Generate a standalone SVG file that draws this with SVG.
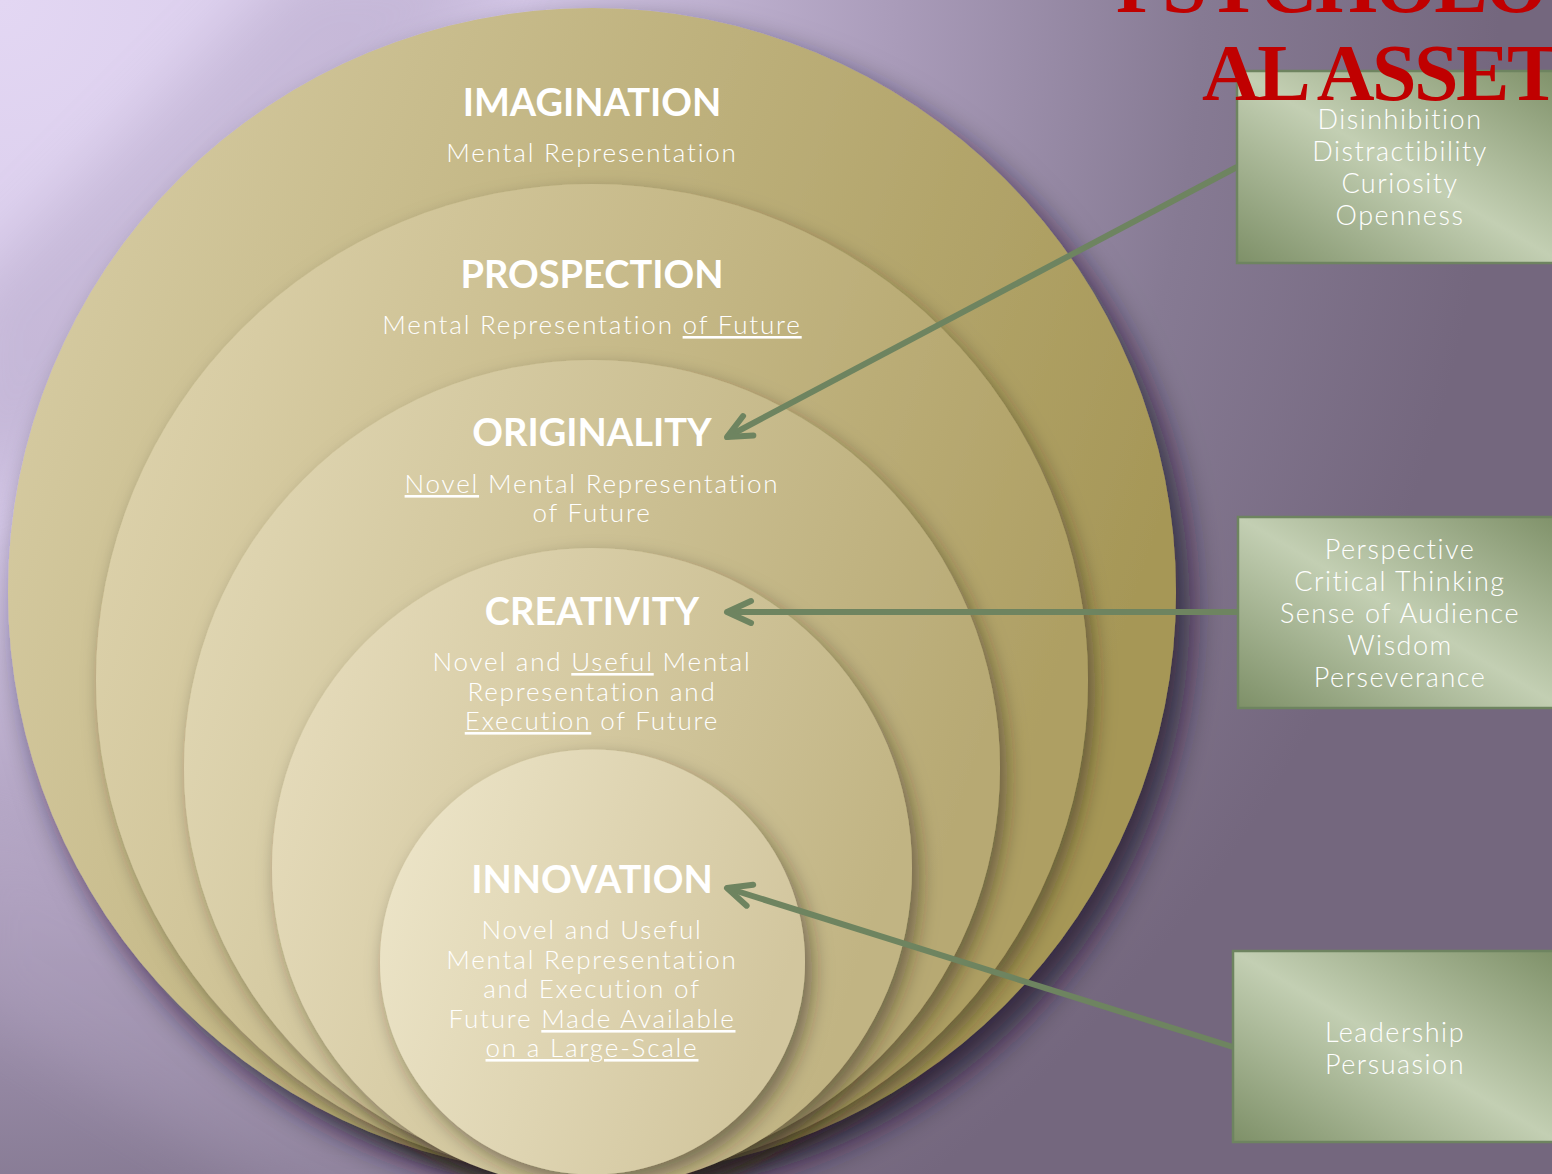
<svg xmlns="http://www.w3.org/2000/svg" width="1552" height="1174" viewBox="0 0 1552 1174">
  <style>
    .ttl { font-family: Lato, "Liberation Sans", sans-serif; font-weight: 700; font-size: 38px; fill: #ffffff; text-anchor: middle; }
    .body { font-family: Lato, "Liberation Sans", sans-serif; font-weight: 300; font-size: 26px; letter-spacing: 1.8px; fill: #ffffff; text-anchor: middle; }
    .box { stroke: #6e8460; stroke-width: 2.5; fill: url(#boxFill); }
    .boxtxt { font-family: Lato, "Liberation Sans", sans-serif; font-weight: 300; font-size: 27px; letter-spacing: 1.5px; fill: #ffffff; text-anchor: middle; }
    .ul { text-decoration: underline; }
    .conn { fill: none; stroke: #6e8460; stroke-width: 6; marker-end: url(#chev); }
    .head { font-family: "Liberation Serif", serif; font-weight: 700; font-size: 80px; fill: #c00000; letter-spacing: -2.5px; }
  </style>
  <defs>
    <radialGradient id="bg" gradientUnits="userSpaceOnUse" cx="0" cy="0" r="1500">
      <stop offset="0" stop-color="#e3d7f3"/>
      <stop offset="0.35" stop-color="#d4c7e7"/>
      <stop offset="0.6" stop-color="#a99bb9"/>
      <stop offset="0.8" stop-color="#867a93"/>
      <stop offset="1" stop-color="#74677e"/>
    </radialGradient>
    <linearGradient id="g1" x1="0.05" y1="0.25" x2="0.95" y2="0.55">
      <stop offset="0" stop-color="#d4c99f"/>
      <stop offset="1" stop-color="#a69757"/>
    </linearGradient>
    <linearGradient id="g2" x1="0.05" y1="0.25" x2="0.95" y2="0.55">
      <stop offset="0" stop-color="#dbd0a9"/>
      <stop offset="1" stop-color="#ae9f63"/>
    </linearGradient>
    <linearGradient id="g3" x1="0.05" y1="0.25" x2="0.95" y2="0.55">
      <stop offset="0" stop-color="#dfd5b1"/>
      <stop offset="1" stop-color="#b7a973"/>
    </linearGradient>
    <linearGradient id="g4" x1="0.05" y1="0.25" x2="0.95" y2="0.55">
      <stop offset="0" stop-color="#e4dab9"/>
      <stop offset="1" stop-color="#c1b483"/>
    </linearGradient>
    <linearGradient id="g5" x1="0.05" y1="0.25" x2="0.95" y2="0.55">
      <stop offset="0" stop-color="#ebe3c6"/>
      <stop offset="1" stop-color="#d2c69e"/>
    </linearGradient>
    <linearGradient id="boxFill" x1="1" y1="0" x2="0" y2="1">
      <stop offset="0" stop-color="#7e9068"/>
      <stop offset="0.5" stop-color="#c3cfb3"/>
      <stop offset="1" stop-color="#7e9068"/>
    </linearGradient>
    <filter id="shadowBig" x="-20%" y="-20%" width="150%" height="150%">
      <feDropShadow dx="14" dy="18" stdDeviation="16" flood-color="#1c1626" flood-opacity="0.75"/>
    </filter>
    <filter id="shadow" x="-20%" y="-20%" width="150%" height="150%">
      <feDropShadow dx="7" dy="10" stdDeviation="10" flood-color="#2a2418" flood-opacity="0.5"/>
    </filter>
    <filter id="soft" x="-20%" y="-20%" width="140%" height="140%">
      <feGaussianBlur stdDeviation="30"/>
    </filter>
    <marker id="chev" markerUnits="userSpaceOnUse" viewBox="-32 -20 40 40" markerWidth="40" markerHeight="40" refX="0" refY="0" orient="auto">
      <path d="M-24,-11 L0,0 L-24,11" fill="none" stroke="#6e8460" stroke-width="6" stroke-linecap="round" stroke-linejoin="round"/>
    </marker>
  </defs>

  <!-- backdrop -->
  <rect width="1552" height="1174" fill="url(#bg)"/>
  <path d="M300,-40 L520,-40 L-40,520 L-40,300 Z" fill="#8d7ea0" opacity="0.25" filter="url(#soft)"/>
  <path d="M-40,800 L700,1214 L300,1214 L-40,1000 Z" fill="#c8b9d8" opacity="0.2" filter="url(#soft)"/>

  <!-- nested circles -->
  <g id="imagination">
    <circle cx="592" cy="592" r="584" fill="url(#g1)" filter="url(#shadowBig)"/>
  </g>
  <g id="prospection">
    <circle cx="592" cy="680" r="496" fill="url(#g2)" filter="url(#shadow)"/>
  </g>
  <g id="originality">
    <circle cx="592" cy="768" r="408" fill="url(#g3)" filter="url(#shadow)"/>
  </g>
  <g id="creativity">
    <circle cx="592" cy="868" r="320" fill="url(#g4)" filter="url(#shadow)"/>
  </g>
  <g id="innovation">
    <circle cx="592.5" cy="962" r="212.5" fill="url(#g5)" filter="url(#shadow)"/>
  </g>

  <!-- circle labels -->
  <g id="labels">
    <text class="ttl" x="592" y="116">IMAGINATION</text>
    <text class="body" x="592" y="162">Mental Representation</text>

    <text class="ttl" x="592" y="288">PROSPECTION</text>
    <text class="body" x="592" y="334">Mental Representation <tspan class="ul">of Future</tspan></text>

    <text class="ttl" x="592" y="446">ORIGINALITY</text>
    <text class="body" x="592" y="493"><tspan class="ul">Novel</tspan> Mental Representation</text>
    <text class="body" x="592" y="522">of Future</text>

    <text class="ttl" x="592" y="625">CREATIVITY</text>
    <text class="body" x="592" y="671">Novel and <tspan class="ul">Useful</tspan> Mental</text>
    <text class="body" x="592" y="701">Representation and</text>
    <text class="body" x="592" y="730"><tspan class="ul">Execution</tspan> of Future</text>

    <text class="ttl" x="592" y="893">INNOVATION</text>
    <text class="body" x="592" y="939">Novel and Useful</text>
    <text class="body" x="592" y="969">Mental Representation</text>
    <text class="body" x="592" y="998">and Execution of</text>
    <text class="body" x="592" y="1028">Future <tspan class="ul">Made Available</tspan></text>
    <text class="body" x="592" y="1057"><tspan class="ul">on a Large-Scale</tspan></text>
  </g>

  <!-- connectors -->
  <g id="connectors">
    <path class="conn" d="M1237,167 L727,437"/>
    <path class="conn" d="M1238,612 L727,612"/>
    <path class="conn" d="M1233,1047 L727,888"/>
  </g>

  <!-- asset boxes -->
  <g id="box-openness">
    <rect class="box" x="1237" y="71" width="326" height="192"/>
    <text class="boxtxt" x="1400" y="129">Disinhibition</text>
    <text class="boxtxt" x="1400" y="161">Distractibility</text>
    <text class="boxtxt" x="1400" y="193">Curiosity</text>
    <text class="boxtxt" x="1400" y="225">Openness</text>
  </g>
  <g id="box-wisdom">
    <rect class="box" x="1238" y="517" width="326" height="191"/>
    <text class="boxtxt" x="1400" y="559">Perspective</text>
    <text class="boxtxt" x="1400" y="591">Critical Thinking</text>
    <text class="boxtxt" x="1400" y="623">Sense of Audience</text>
    <text class="boxtxt" x="1400" y="655">Wisdom</text>
    <text class="boxtxt" x="1400" y="687">Perseverance</text>
  </g>
  <g id="box-leadership">
    <rect class="box" x="1233" y="951" width="326" height="191"/>
    <text class="boxtxt" x="1395" y="1042">Leadership</text>
    <text class="boxtxt" x="1395" y="1074">Persuasion</text>
  </g>

  <!-- heading -->
  <g id="heading">
    <text class="head" x="1116" y="12">PSYCHOLOGIC</text>
    <text class="head" x="1202" y="100">AL ASSETS</text>
  </g>
</svg>
